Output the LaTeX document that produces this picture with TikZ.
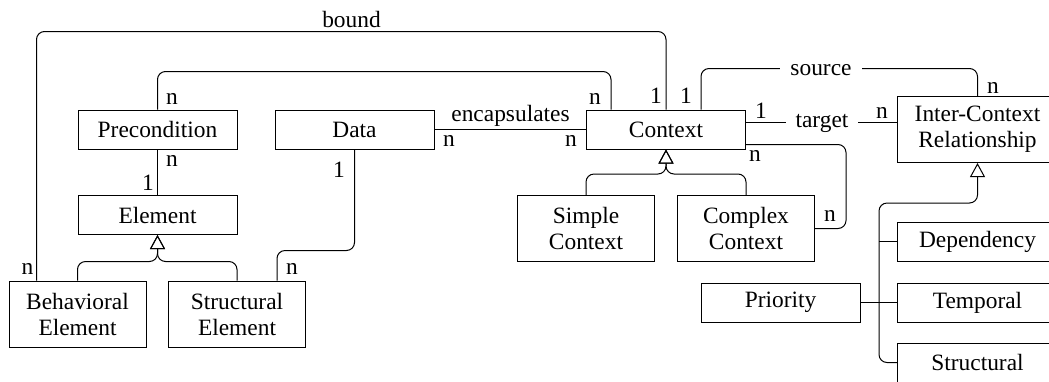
\documentclass[tikz,border=0pt]{standalone}
\usepackage{fontspec}
\setmainfont{Liberation Serif}
\usetikzlibrary{arrows.meta}
\usetikzlibrary{positioning}

\begin{document}
\begin{tikzpicture}[x=0.5pt,y=-0.5pt,font=\fontsize{11.7}{13}\selectfont]
\tikzstyle{classbox}=[draw,line width=0.5pt,align=center,inner sep=0pt,
minimum width=79.5pt,minimum height=19.5pt]
\tikzstyle{subbox}=[classbox,minimum width=68.5pt,minimum height=33pt]
\tikzstyle{relbox}=[classbox,minimum width=80pt]
\tikzstyle{link}=[line width=0.5pt,rounded corners=4pt]
\tikzstyle{inherit}=[link,-{Triangle[open,length=7pt,width=7.5pt]}]
\tikzstyle{mult}=[anchor=base,inner sep=0pt]
\tikzstyle{role}=[anchor=base,fill=white,inner xsep=5pt,inner ysep=2pt]
%frame
\useasboundingbox (0,0) rectangle (1049,381);
\clip (0,0) rectangle (1049,381);
%classes
\node[classbox] (prec) at (157.5,129.5) {Precondition};
\node[classbox] (data) at (354.5,129.5) {Data};
\node[classbox] (ctx) at (666,129.5) {Context};
\node[classbox] (elem) at (157.5,215) {Element};
\node[subbox] (behav) at (77.5,314) {Behavioral\\Element};
\node[subbox] (struct) at (237,314) {Structural\\Element};
\node[subbox] (simple) at (586,228.5) {Simple\\Context};
\node[subbox] (complex) at (746,228.5) {Complex\\Context};
\node[relbox,minimum height=33pt] (icr) at (977.5,129.5) {Inter-Context\\Relationship};
\node[relbox] (dep) at (977.5,241.5) {Dependency};
\node[relbox] (temp) at (977.5,302.5) {Temporal};
\node[relbox] (strrel) at (977.5,362.5) {Structural};
\node[classbox] (prio) at (780.5,302.5) {Priority};
%associations
\draw[link] ([xshift=14pt]behav.north west) -- ++(0,-249) -| (ctx.north);
\draw[link] (prec.north) -- ++(0,-38) -| ([xshift=-27.5pt]ctx.north);
\draw[link] (data.east) -- (ctx.west);
\draw[link] (prec) -- (elem);
\draw[link] ([xshift=20pt]struct.north) -- ++(0,-30) -| (data.south);
\draw[link] ([xshift=17.5pt]ctx.north) -- ++(0,-41) -| (icr.north);
\draw[link] ([yshift=3.5pt]ctx.east) -- ([yshift=3.5pt]icr.west);
\draw[link] ([yshift=-7.5pt]ctx.east) -- ++(100,0) |- (complex.east);
\draw[link] (dep.west) -- ++(-18,0);
\draw[link] (prio) -- (temp);
%generalisations
\draw[inherit] (behav.north) -- ++(0,-19) -| (elem.south);
\draw[inherit] (struct.north) -- ++(0,-19) -| (elem.south);
\draw[inherit] (simple.north) -- ++(0,-21) -| (ctx.south);
\draw[inherit] (complex.north) -- ++(0,-21) -| (ctx.south);
\draw[inherit] (strrel.west) -- ++(-18,0) -- ++(0,-159.5) -| (icr.south);
%labels
\node[mult] (lbound) at (351.5,27.5) {bound};
\node[mult] (lencaps) at (510.5,121) {encapsulates};
\node[role] (lsource) at (821,75) {source};
\node[role] (ltarget) at (822,127.5) {target};
\node[mult] (mprectop) at (172,104) {n};
\node[mult] (mprecbot) at (172,166) {n};
\node[mult] (melem) at (148,190) {1};
\node[mult] (mbehav) at (27.5,274) {n};
\node[mult] (mstruct) at (292,274) {n};
\node[mult] (mdata) at (339,177) {1};
\node[mult] (mdataenc) at (449,146.5) {n};
\node[mult] (mctxenc) at (571,146.5) {n};
\node[mult] (mctxprec) at (595,104.5) {n};
\node[mult] (mctxbound) at (656,103) {1};
\node[mult] (mctxsource) at (686,103) {1};
\node[mult] (micrsource) at (993,93) {n};
\node[mult] (mctxtarget) at (761,118) {1};
\node[mult] (micrtarget) at (882,118) {n};
\node[mult] (mctxsub) at (755,161) {n};
\node[mult] (mcomplex) at (830,221.5) {n};
\end{tikzpicture}
\end{document}
